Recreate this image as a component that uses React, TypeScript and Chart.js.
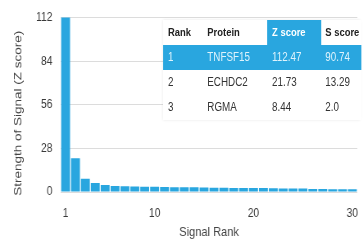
import React, { useEffect, useRef } from "react";
import { Chart, registerables } from "chart.js";

Chart.register(...registerables);

const ranks: string[] = Array.from({ length: 30 }, (_, i) => String(i + 1));
const zScores: number[] = [
  112.47, 21.73, 8.44, 5.8, 4.5, 3.9, 3.7, 3.5, 3.4, 3.3,
  3.2, 3.1, 3.0, 3.0, 2.9, 2.8, 2.7, 2.6, 2.6, 2.5,
  2.5, 2.4, 2.3, 2.3, 2.2, 2.0, 1.9, 1.8, 1.8, 1.7,
];
const xTickLabels: string[] = ["1", "10", "20", "30"];
const yTicks: number[] = [0, 28, 56, 84, 112];

const tableHeader: string[] = ["Rank", "Protein", "Z score", "S score"];
const tableRanks: string[] = ["1", "2", "3"];
const tableProteins: string[] = ["TNFSF15", "ECHDC2", "RGMA"];
const tableZ: string[] = ["112.47", "21.73", "8.44"];
const tableS: string[] = ["90.74", "13.29", "2.0"];

const BLUE = "#29a6df";
const FONT = "'Liberation Sans', Arial, Helvetica, sans-serif";
const W = 443; // drawing width before horizontal condensing
const H = 241;
const SX = 363 / W;
const Y_TITLE = "Strength of Signal (Z score)";

const yTitlePlugin = {
  id: "yTitle",
  afterDraw(chart: any) {
    const { ctx, chartArea } = chart;
    ctx.save();
    ctx.translate(22, (chartArea.top + chartArea.bottom) / 2 + 8.5);
    ctx.rotate(-Math.PI / 2);
    ctx.font = `13.5px ${FONT}`;
    ctx.fillStyle = "#444";
    ctx.textAlign = "center";
    ctx.textBaseline = "middle";
    ctx.fillText(Y_TITLE, 0, 0);
    ctx.restore();
  },
};

export default function App() {
  const ref = useRef<HTMLCanvasElement | null>(null);

  useEffect(() => {
    if (!ref.current) return;
    const chart = new Chart(ref.current, {
      type: "bar",
      data: {
        labels: ranks,
        datasets: [
          {
            data: zScores,
            backgroundColor: BLUE,
            borderWidth: 0,
            barPercentage: 0.9,
            categoryPercentage: 1,
          },
        ],
      },
      options: {
        animation: false,
        responsive: false,
        maintainAspectRatio: false,
        layout: { padding: { top: 17, right: 1, left: 0, bottom: 0 } },
        plugins: { legend: { display: false }, tooltip: { enabled: false } },
        scales: {
          x: {
            grid: { display: false },
            border: { display: false },
            ticks: {
              autoSkip: false,
              maxRotation: 0,
              padding: 6,
              color: "#3a3a3a",
              font: { family: FONT, size: 12.5 },
              callback: function (this: any, _v: any, i: number) {
                const l = ranks[i];
                return xTickLabels.includes(l) ? l : "";
              },
            },
            title: {
              display: true,
              text: "Signal Rank",
              color: "#444",
              font: { family: FONT, size: 13.5 },
              padding: { top: 0, bottom: 0.5 },
            },
            afterFit: (s: any) => {
              s.height = 49;
            },
          },
          y: {
            min: 0,
            max: 112,
            afterBuildTicks: (s: any) => {
              s.ticks = yTicks.map((v) => ({ value: v }));
            },
            grid: { color: "#dcdcdc", lineWidth: 1, drawTicks: false },
            border: { display: false },
            ticks: {
              padding: 10,
              color: "#3a3a3a",
              font: { family: FONT, size: 12.5 },
            },
            title: { display: false },
            afterFit: (s: any) => {
              s.width = 74;
            },
          },
        },
      },
      plugins: [yTitlePlugin],
    });
    return () => chart.destroy();
  }, []);

  const cols = [
    { left: 0, width: 49, pad: 6 },
    { left: 49, width: 78, pad: 5 },
    { left: 127, width: 66, pad: 6 },
    { left: 193, width: 49, pad: 5 },
  ];

  const cell = (text: string, c: number, style: React.CSSProperties = {}) => (
    <div
      key={c}
      style={{
        position: "absolute",
        left: cols[c].left,
        width: cols[c].width,
        top: 0,
        height: 25,
        lineHeight: "25px",
        paddingLeft: cols[c].pad,
        boxSizing: "border-box",
        whiteSpace: "nowrap",
        ...style,
      }}
    >
      {text}
    </div>
  );

  return (
    <div style={{ position: "fixed", left: 0, top: 0, width: 363, height: H, background: "#fff", overflow: "hidden" }}>
      <div
        style={{
          position: "absolute",
          left: 0,
          top: 0,
          width: W,
          height: H,
          transform: `scaleX(${SX})`,
          transformOrigin: "0 0",
        }}
      >
        <canvas ref={ref} width={W} height={H} style={{ position: "absolute", left: 0, top: 0, width: W, height: H }} />
        <div
          style={{
            position: "absolute",
            left: 199,
            top: 20,
            width: 242,
            height: 100,
            background: "#fff",
            boxShadow: "0 0 3px rgba(0,0,0,0.10)",
            fontFamily: FONT,
            fontSize: 12,
            color: "#333",
          }}
        >
          <div style={{ position: "absolute", left: 0, top: 0, width: 242, height: 25, fontWeight: "bold", fontSize: 11.5, color: "#222" }}>
            {tableHeader.map((h, c) =>
              cell(h, c, c === 2 ? { background: BLUE, color: "#fff" } : {})
            )}
          </div>
          {tableRanks.map((r, i) => (
            <div
              key={r}
              style={{
                position: "absolute",
                left: 0,
                top: 25 * (i + 1),
                width: 242,
                height: 25,
                background: i === 0 ? BLUE : "#fff",
                color: i === 0 ? "#dff3fc" : "#333",
              }}
            >
              {cell(r, 0)}
              {cell(tableProteins[i], 1)}
              {cell(tableZ[i], 2)}
              {cell(tableS[i], 3)}
            </div>
          ))}
        </div>
      </div>
    </div>
  );
}
